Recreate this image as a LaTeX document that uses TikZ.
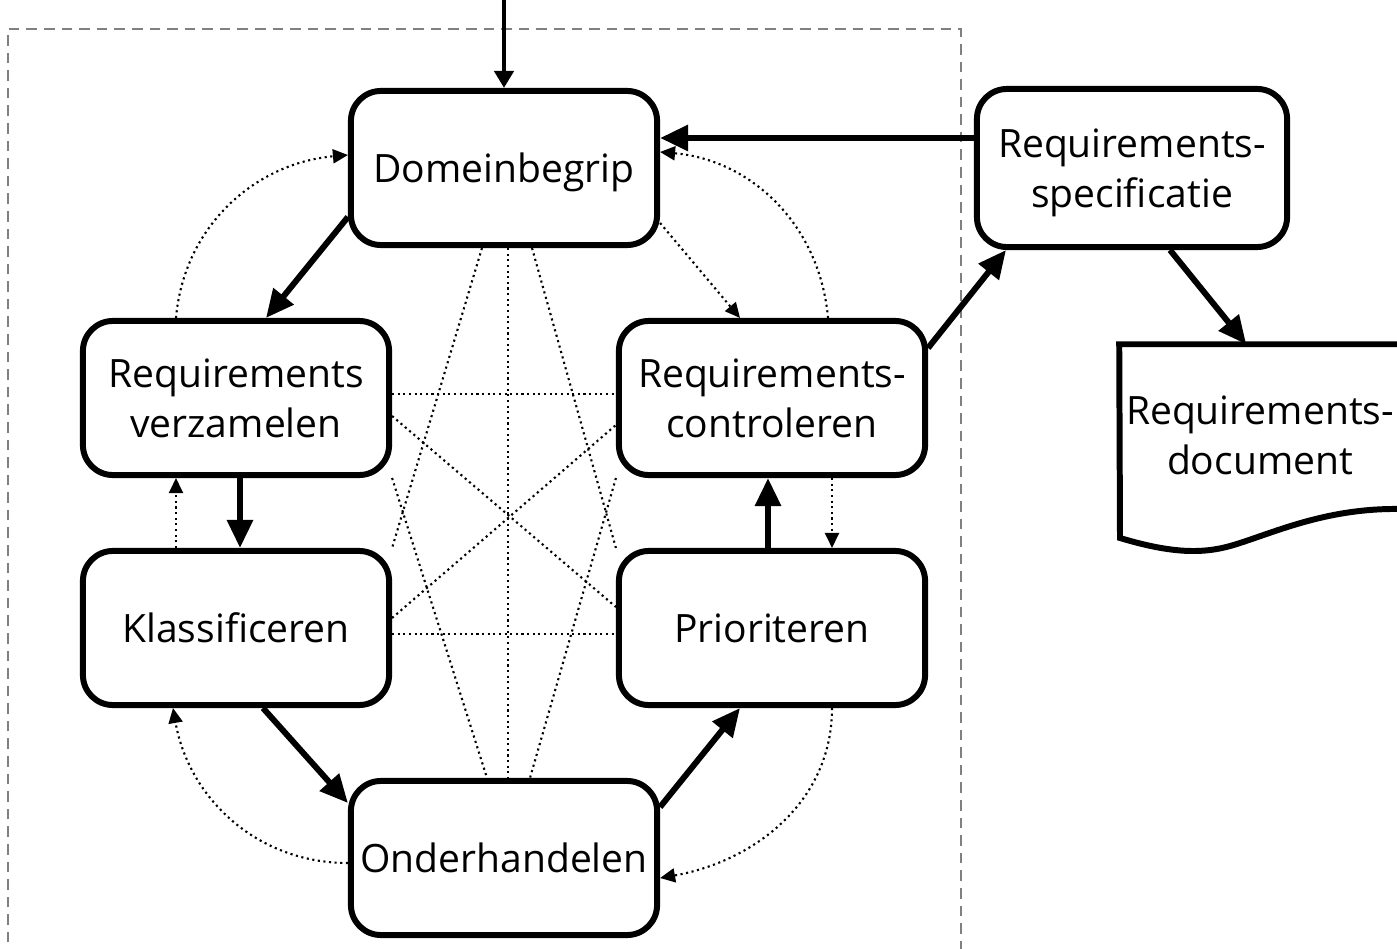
\documentclass[tikz,border=0pt]{standalone}
\usepackage{fontspec}
\setmainfont{Open Sans}
\usetikzlibrary{arrows.meta, calc}

\begin{document}
\begin{tikzpicture}[x=0.01cm, y=0.01cm,
    box/.style={draw, line width=1.7pt, rounded corners=0.3cm, minimum width=3.06cm, minimum height=1.54cm, align=center, inner sep=0pt, text depth=-3.8pt, font=\fontsize{11.1}{14.2}\selectfont},
    flow/.style={line width=1.7pt, -{Triangle[length=0.28cm, width=0.25cm]}},
    back/.style={line width=0.6pt, densely dotted, -{Triangle[length=0.15cm, width=0.14cm]}},
    link/.style={line width=0.6pt, densely dotted}]
    \useasboundingbox (0,0) rectangle (1397,-949);
    \draw[gray, line width=0.3pt, densely dashed] (8,-960) -- (8,-29) -- (961,-29) -- (961,-960);

    \node[box] (dom) at (504,-168) {Domeinbegrip};
    \node[box] (verz) at (236,-398) {Requirements\\verzamelen};
    \node[box] (contr) at (772,-398) {Requirements-\\controleren};
    \node[box] (klas) at (236,-628) {Klassificeren};
    \node[box] (prio) at (772,-628) {Prioriteren};
    \node[box] (ond) at (504,-858) {Onderhandelen};
    \node[box, minimum width=3.1cm, minimum height=1.58cm] (spec) at (1132,-168) {Requirements-\\specificatie};
    \node[minimum width=2.8cm, minimum height=1.8cm, inner sep=0pt, align=center, text depth=-1pt, font=\fontsize{11.1}{14.2}\selectfont] (doc) at (1260,-435) {Requirements-\\document};
    \coordinate (start) at (504,0);

    % document shape
    \draw[line width=1.7pt] (doc.north west) -- (doc.north east) -- (1400,-509)
        .. controls (1330,-508) and (1280,-530) .. (1240,-543)
        .. controls (1210,-553) and (1180,-556) .. (1120,-538) -- cycle;

    % main flow
    \draw[flow, line width=1.3pt, -{Triangle[length=0.17cm, width=0.19cm]}] (start) -- (dom.north);
    \draw[flow] ($(spec.west)+(0,30)$) -- ($(dom.east)+(0,30)$);
    \draw[flow] ($(dom.west)+(0,-49)$) -- ($(verz.north)+(30,0)$);
    \draw[flow] ($(verz.south)+(4,0)$) -- ($(klas.north)+(4,0)$);
    \draw[flow] ($(klas.south)+(27,0)$) -- ($(ond.west)+(0,55)$);
    \draw[flow] ($(ond.east)+(0,51)$) -- ($(prio.south)+(-32,0)$);
    \draw[flow] ($(prio.north)+(-4,0)$) -- ($(contr.south)+(-4,0)$);
    \draw[flow] ($(contr.east)+(0,50)$) -- ($(spec.south)+(-126,0)$);
    \draw[flow] ($(spec.south)+(38,0)$) -- ($(doc.north west)+(127,0)$);

    % feedback
    \draw[back] ($(verz.north)+(-60,0)$) to[out=85, in=185] ($(dom.west)+(0,13)$);
    \draw[back] ($(contr.north)+(56,0)$) to[out=95, in=-5] ($(dom.east)+(0,16)$);
    \draw[back] ($(dom.east)+(0,-55)$) -- ($(contr.north)+(-32,0)$);
    \draw[back] ($(klas.north)+(-60,0)$) -- ($(verz.south)+(-60,0)$);
    \draw[back] ($(contr.south)+(60,0)$) -- ($(prio.north)+(60,0)$);
    \draw[back] ($(ond.west)+(0,-5)$) to[out=180, in=-80] ($(klas.south)+(-63,0)$);
    \draw[back] ($(prio.south)+(60,0)$) to[out=-90, in=10] ($(ond.east)+(0,-20)$);

    % links
    \draw[link] ($(verz.east)+(0,4)$) -- ($(contr.west)+(0,4)$);
    \draw[link] ($(klas.east)+(0,-6)$) -- ($(prio.west)+(0,-6)$);
    \draw[link] ($(verz.east)+(0,-18)$) -- ($(prio.west)+(0,21)$);
    \draw[link] ($(klas.east)+(0,10)$) -- ($(contr.west)+(0,-27)$);
    \draw[link] ($(dom.south)+(4,0)$) -- ($(ond.north)+(4,0)$);
    \draw[link] ($(dom.south)+(-22,0)$) -- (klas.north east);
    \draw[link] ($(dom.south)+(28,0)$) -- (prio.north west);
    \draw[link] (verz.south east) -- ($(ond.north)+(-17,0)$);
    \draw[link] (contr.south west) -- ($(ond.north)+(26,0)$);
\end{tikzpicture}
\end{document}
